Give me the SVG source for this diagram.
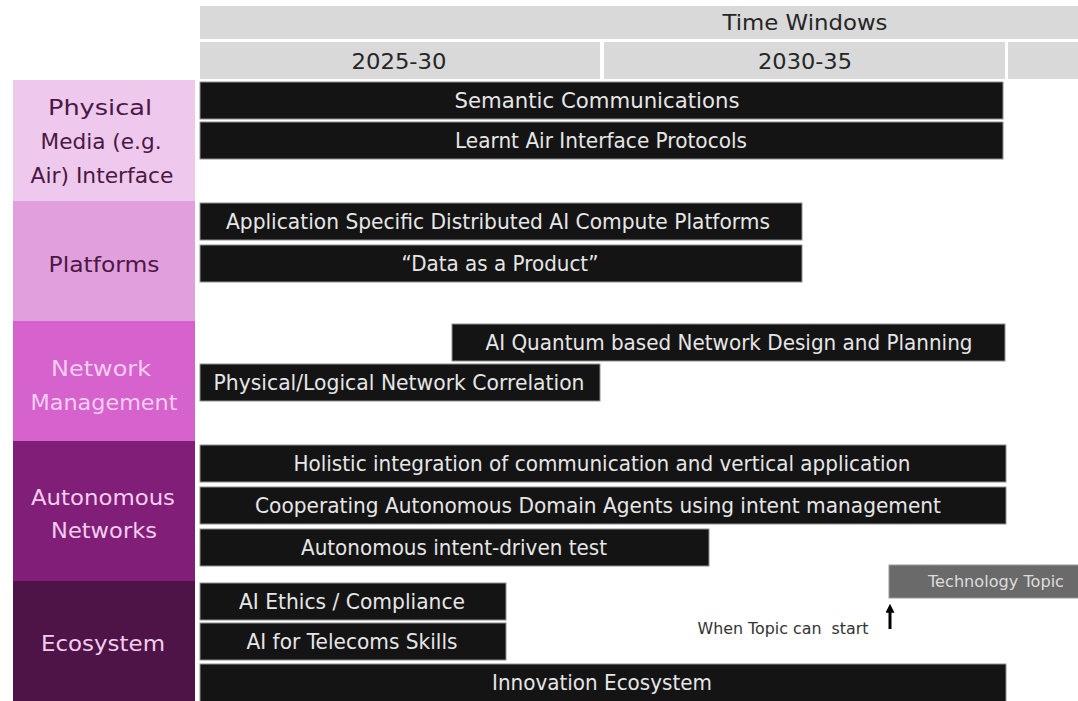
<svg xmlns="http://www.w3.org/2000/svg" width="1078" height="701" viewBox="0 0 1078 701">
  <style>
    text { font-family: "DejaVu Sans", "Liberation Sans", sans-serif; text-anchor: middle; }
    .hdr { fill: #d9d9d9; }
    .hdr-t { fill: #262626; font-size: 22px; }
    .bar { fill: #141414; stroke: #8f8f8f; stroke-width: 1; }
    .bar-t { fill: #e6e6e6; font-size: 20.5px; }
    .lbl-dark { fill: #4a1844; font-size: 22px; }
    .lbl-light { fill: #f4cdee; font-size: 22px; }
    .topic { fill: #6a6a6a; stroke: #9a9a9a; stroke-width: 1; }
    .topic-t { fill: #dcdcdc; font-size: 15px; }
    .note { fill: #333333; font-size: 15px; white-space: pre; }
    .conn { stroke: #000000; stroke-width: 3; fill: none; }
  </style>
  <defs>
    <marker id="arrowhead" viewBox="0 0 10 10" refX="2" refY="5" markerWidth="3" markerHeight="3" orient="auto" markerUnits="strokeWidth">
      <path d="M0,0 L10,5 L0,10 Z" fill="#000000"/>
    </marker>
  </defs>

  <rect width="1078" height="701" fill="#ffffff"/>

  <!-- time window header -->
  <g id="header-time-windows">
    <rect class="hdr" x="200" y="6" width="878" height="33"/>
    <text class="hdr-t" x="805" y="30" textLength="165" lengthAdjust="spacingAndGlyphs">Time Windows</text>
  </g>
  <g id="header-2025-30">
    <rect class="hdr" x="200" y="42" width="400" height="37"/>
    <text class="hdr-t" x="399" y="69" textLength="95" lengthAdjust="spacingAndGlyphs">2025-30</text>
  </g>
  <g id="header-2030-35">
    <rect class="hdr" x="604" y="42" width="401" height="37"/>
    <text class="hdr-t" x="805" y="69" textLength="94" lengthAdjust="spacingAndGlyphs">2030-35</text>
  </g>
  <g id="header-later">
    <rect class="hdr" x="1008" y="42" width="70" height="37"/>
  </g>

  <!-- row categories -->
  <g id="cat-physical-media">
    <rect x="13" y="80" width="182" height="121" fill="#eec9ed"/>
    <text class="lbl-dark" x="100" y="115" textLength="104" lengthAdjust="spacingAndGlyphs">Physical</text>
    <text class="lbl-dark" x="101" y="149" textLength="121" lengthAdjust="spacingAndGlyphs">Media (e.g.</text>
    <text class="lbl-dark" x="102" y="183" textLength="143" lengthAdjust="spacingAndGlyphs">Air) Interface</text>
  </g>
  <g id="cat-platforms">
    <rect x="13" y="201" width="182" height="120" fill="#e29fdd"/>
    <text class="lbl-dark" x="104" y="272" textLength="111" lengthAdjust="spacingAndGlyphs">Platforms</text>
  </g>
  <g id="cat-network-management">
    <rect x="13" y="321" width="182" height="120" fill="#d662ce"/>
    <text class="lbl-light" x="101" y="376" textLength="100" lengthAdjust="spacingAndGlyphs">Network</text>
    <text class="lbl-light" x="104" y="410" textLength="147" lengthAdjust="spacingAndGlyphs">Management</text>
  </g>
  <g id="cat-autonomous-networks">
    <rect x="13" y="441" width="182" height="140" fill="#801e78"/>
    <text class="lbl-light" x="103" y="505" textLength="144" lengthAdjust="spacingAndGlyphs">Autonomous</text>
    <text class="lbl-light" x="104" y="538" textLength="106" lengthAdjust="spacingAndGlyphs">Networks</text>
  </g>
  <g id="cat-ecosystem">
    <rect x="13" y="581" width="182" height="120" fill="#4e1448"/>
    <text class="lbl-light" x="103" y="651" textLength="124" lengthAdjust="spacingAndGlyphs">Ecosystem</text>
  </g>

  <!-- topic bars -->
  <g id="topic-semantic-communications">
    <rect class="bar" x="200" y="82" width="803" height="37"/>
    <text class="bar-t" x="597" y="108" textLength="285" lengthAdjust="spacingAndGlyphs">Semantic Communications</text>
  </g>
  <g id="topic-learnt-air-interface">
    <rect class="bar" x="200" y="122" width="803" height="37"/>
    <text class="bar-t" x="601" y="148" textLength="292" lengthAdjust="spacingAndGlyphs">Learnt Air Interface Protocols</text>
  </g>
  <g id="topic-distributed-ai-compute">
    <rect class="bar" x="200" y="203" width="602" height="37"/>
    <text class="bar-t" x="498" y="229" textLength="544" lengthAdjust="spacingAndGlyphs">Application Specific Distributed AI Compute Platforms</text>
  </g>
  <g id="topic-data-as-product">
    <rect class="bar" x="200" y="245" width="602" height="37"/>
    <text class="bar-t" x="500" y="271" textLength="197" lengthAdjust="spacingAndGlyphs">“Data as a Product”</text>
  </g>
  <g id="topic-quantum-network-design">
    <rect class="bar" x="452" y="324" width="553" height="37"/>
    <text class="bar-t" x="729" y="350" textLength="487" lengthAdjust="spacingAndGlyphs">AI Quantum based Network Design and Planning</text>
  </g>
  <g id="topic-network-correlation">
    <rect class="bar" x="200" y="364" width="400" height="37"/>
    <text class="bar-t" x="399" y="390" textLength="371" lengthAdjust="spacingAndGlyphs">Physical/Logical Network Correlation</text>
  </g>
  <g id="topic-holistic-integration">
    <rect class="bar" x="200" y="445" width="806" height="37"/>
    <text class="bar-t" x="602" y="471" textLength="617" lengthAdjust="spacingAndGlyphs">Holistic integration of communication and vertical application</text>
  </g>
  <g id="topic-domain-agents">
    <rect class="bar" x="200" y="487" width="806" height="37"/>
    <text class="bar-t" x="598" y="513" textLength="686" lengthAdjust="spacingAndGlyphs">Cooperating Autonomous Domain Agents using intent management</text>
  </g>
  <g id="topic-intent-driven-test">
    <rect class="bar" x="200" y="529" width="509" height="37"/>
    <text class="bar-t" x="454" y="555" textLength="306" lengthAdjust="spacingAndGlyphs">Autonomous intent-driven test</text>
  </g>
  <g id="topic-ai-ethics">
    <rect class="bar" x="200" y="583" width="306" height="37"/>
    <text class="bar-t" x="352" y="609" textLength="226" lengthAdjust="spacingAndGlyphs">AI Ethics / Compliance</text>
  </g>
  <g id="topic-ai-telecoms-skills">
    <rect class="bar" x="200" y="623" width="306" height="37"/>
    <text class="bar-t" x="352" y="649" textLength="211" lengthAdjust="spacingAndGlyphs">AI for Telecoms Skills</text>
  </g>
  <g id="topic-innovation-ecosystem">
    <rect class="bar" x="200" y="664" width="806" height="42"/>
    <text class="bar-t" x="602" y="690" textLength="220" lengthAdjust="spacingAndGlyphs">Innovation Ecosystem</text>
  </g>

  <!-- legend -->
  <g id="legend-technology-topic">
    <rect class="topic" x="889" y="565" width="195" height="33"/>
    <text class="topic-t" x="996" y="587" textLength="136" lengthAdjust="spacingAndGlyphs">Technology Topic</text>
  </g>
  <g id="legend-start-note">
    <text class="note" x="783" y="634" textLength="171" lengthAdjust="spacingAndGlyphs">When Topic can  start</text>
  </g>

  <g id="connectors">
    <line class="conn" x1="890" y1="629" x2="890" y2="611" marker-end="url(#arrowhead)"/>
  </g>
</svg>
